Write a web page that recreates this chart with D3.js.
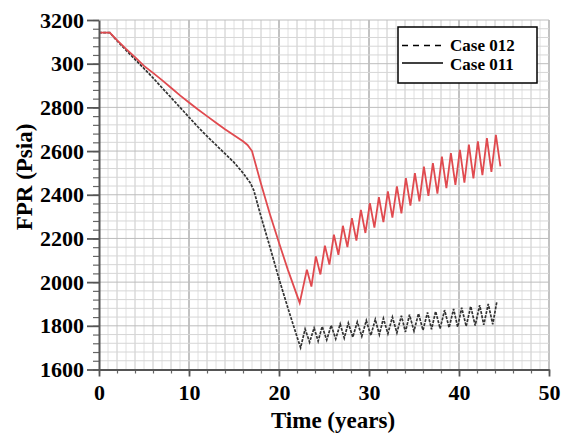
<!DOCTYPE html>
<meta charset="utf-8">
<script src="https://d3js.org/d3.v7.min.js"></script>
<style>
  body { margin: 0; background: #fff; }
  text { font-family: "Liberation Serif", "Times New Roman", serif; font-weight: bold; }
</style>
<div id="my_dataviz"></div>
<script>
// Data
var yTickValues = [1600, 1800, 2000, 2200, 2400, 2600, 2800, 3000, 3200];
var yTickLabels = ["1600", "1800", "2000", "2200", "2400", "2600", "2800", "300", "3200"];
var xTickValues = [0, 10, 20, 30, 40, 50];
var seriesNames = ["Case 012", "Case 011"];

// Case 011 (red, solid)
var case011Years = [0, 1.2, 2, 3, 4, 5, 6, 7, 8, 9, 10, 11, 12, 13, 14, 15, 16, 16.5, 17, 18, 19, 20, 21, 22.3,
  23.1, 23.6, 24.1, 24.6, 25.1, 25.6, 26.1, 26.6, 27.1, 27.6, 28.1, 28.6, 29.1, 29.6, 30.1, 30.6,
  31.1, 31.6, 32.1, 32.6, 33.1, 33.6, 34.1, 34.6, 35.1, 35.6, 36.1, 36.6, 37.1, 37.6, 38.1, 38.6,
  39.1, 39.6, 40.1, 40.6, 41.1, 41.6, 42.1, 42.6, 43.1, 43.6, 44.1, 44.6];
var case011Values = [3142, 3142, 3108, 3068, 3030, 2990, 2958, 2925, 2890, 2855, 2822, 2790, 2760, 2730, 2700, 2672, 2645, 2628, 2600, 2450, 2310, 2180, 2055, 1905,
  2057, 1980, 2118, 2035, 2167, 2080, 2217, 2125, 2258, 2160, 2293, 2190, 2331, 2225, 2362, 2250,
  2389, 2275, 2415, 2295, 2438, 2315, 2476, 2350, 2499, 2370, 2529, 2395, 2545, 2405, 2575, 2430,
  2591, 2445, 2606, 2455, 2629, 2475, 2644, 2490, 2659, 2505, 2674, 2530];

// Case 012 (dark, dashed)
var case012Years = [0, 1.2, 2, 3, 4, 5, 6, 7, 8, 9, 10, 11, 12, 13, 14, 15, 16, 16.8, 17.2, 18, 19, 20, 21, 22, 22.4,
  22.9, 23.4, 23.9, 24.35, 24.8, 25.3, 25.8, 26.3, 26.8, 27.25, 27.7, 28.2, 28.7, 29.2, 29.7, 30.2,
  30.7, 31.15, 31.6, 32.1, 32.6, 33.1, 33.6, 34.05, 34.5, 35.0, 35.5, 36.0, 36.5, 36.95, 37.4, 37.9,
  38.4, 38.9, 39.4, 39.85, 40.3, 40.8, 41.3, 41.8, 42.3, 42.75, 43.25, 43.75, 44.2];
var case012Values = [3142, 3142, 3105, 3062, 3020, 2978, 2935, 2890, 2845, 2800, 2755, 2710, 2668, 2628, 2588, 2548, 2500, 2455, 2420, 2300, 2160, 2015, 1880, 1750, 1700,
  1785, 1725, 1790, 1730, 1797, 1735, 1802, 1740, 1808, 1744, 1813, 1748, 1818, 1752, 1824, 1756,
  1829, 1760, 1834, 1764, 1840, 1768, 1846, 1772, 1851, 1776, 1856, 1780, 1861, 1784, 1866, 1788,
  1872, 1792, 1877, 1795, 1883, 1798, 1889, 1801, 1895, 1804, 1900, 1807, 1910];

var W = 565, H = 445;
var svg = d3.select("#my_dataviz")
  .append("svg")
    .attr("width", W)
    .attr("height", H);

// scales
var x = d3.scaleLinear().domain([0, 50]).range([99, 549]);
var y = d3.scaleLinear().domain([1600, 3200]).range([369.5, 20]);

// grid
var grid = svg.append("g");
grid.selectAll(".vg")
  .data(d3.range(1, 51, 1))
  .enter().append("line")
    .attr("x1", d => x(d)).attr("x2", d => x(d))
    .attr("y1", y(3200)).attr("y2", y(1600))
    .attr("stroke", d => d % 10 === 0 ? "#aaa" : (d % 2 === 0 ? "#c8c8c8" : "#e0e0e0"))
    .attr("stroke-width", d => d % 10 === 0 ? 1.4 : 1);
grid.selectAll(".hg")
  .data(d3.range(1640, 3201, 40))
  .enter().append("line")
    .attr("x1", x(0)).attr("x2", x(50))
    .attr("y1", d => y(d)).attr("y2", d => y(d))
    .attr("stroke", d => d % 200 === 0 ? "#bdbdbd" : "#d6d6d6")
    .attr("stroke-width", 1);

// lines
var line = d3.line()
  .x(d => x(d[0]))
  .y(d => y(d[1]));

svg.append("path")
  .datum(d3.zip(case012Years, case012Values))
  .attr("fill", "none")
  .attr("stroke", "#333")
  .attr("stroke-width", 1.7)
  .attr("stroke-dasharray", "3,1.2")
  .attr("d", line);

svg.append("path")
  .datum(d3.zip(case011Years, case011Values))
  .attr("fill", "none")
  .attr("stroke", "#e04a4f")
  .attr("stroke-width", 1.8)
  .attr("d", line);

// Y axis
var yMinor = svg.append("g")
  .attr("transform", "translate(" + x(0) + ",0)")
  .call(d3.axisLeft(y).tickValues(d3.range(1600, 3201, 40)).tickSize(6).tickFormat(""));
yMinor.select(".domain").remove();
yMinor.selectAll("line").attr("stroke", "#666").attr("stroke-width", 1.2);

var yAxis = svg.append("g")
  .attr("transform", "translate(" + x(0) + ",0)")
  .call(d3.axisLeft(y).tickValues(yTickValues).tickSize(12).tickSizeOuter(0).tickPadding(3)
    .tickFormat((d, i) => yTickLabels[i]));
yAxis.select(".domain").attr("stroke", "#555").attr("stroke-width", 2);
yAxis.selectAll("line").attr("stroke", "#555").attr("stroke-width", 1.8);
yAxis.selectAll("text").attr("fill", "#000").style("font-size", "22px")
  .style("font-family", "'Liberation Serif', serif").style("font-weight", "bold");

// X axis
var xMinor = svg.append("g")
  .attr("transform", "translate(0," + y(1600) + ")")
  .call(d3.axisBottom(x).tickValues(d3.range(0, 51, 2)).tickSize(4).tickFormat(""));
xMinor.select(".domain").remove();
xMinor.selectAll("line").attr("stroke", "#666").attr("stroke-width", 1.2);

var xAxis = svg.append("g")
  .attr("transform", "translate(0," + y(1600) + ")")
  .call(d3.axisBottom(x).tickValues(xTickValues).tickSize(7).tickSizeOuter(0).tickPadding(8));
xAxis.select(".domain").attr("stroke", "#555").attr("stroke-width", 2);
xAxis.selectAll("line").attr("stroke", "#555").attr("stroke-width", 1.8);
xAxis.selectAll("text").attr("fill", "#000").style("font-size", "22px")
  .style("font-family", "'Liberation Serif', serif").style("font-weight", "bold");

// axis titles
svg.append("text")
  .attr("x", 333).attr("y", 428)
  .attr("text-anchor", "middle")
  .style("font-size", "23px")
  .text("Time (years)");

svg.append("text")
  .attr("transform", "translate(32,177) rotate(-90)")
  .attr("text-anchor", "middle")
  .style("font-size", "23px")
  .text("FPR (Psia)");

// legend
var legend = svg.append("g");
legend.append("rect")
  .attr("x", 398).attr("y", 27).attr("width", 139).attr("height", 56)
  .attr("fill", "#fff").attr("stroke", "#000").attr("stroke-width", 1.5);
legend.append("line")
  .attr("x1", 402).attr("x2", 441).attr("y1", 45.5).attr("y2", 45.5)
  .attr("stroke", "#000").attr("stroke-width", 1.5).attr("stroke-dasharray", "6,5");
legend.append("line")
  .attr("x1", 402).attr("x2", 443).attr("y1", 63).attr("y2", 63)
  .attr("stroke", "#000").attr("stroke-width", 1.5);
legend.selectAll(".lt")
  .data(seriesNames)
  .enter().append("text")
    .attr("x", 450)
    .attr("y", (d, i) => 51 + i * 18.5)
    .style("font-size", "17px")
    .text(d => d);
</script>
